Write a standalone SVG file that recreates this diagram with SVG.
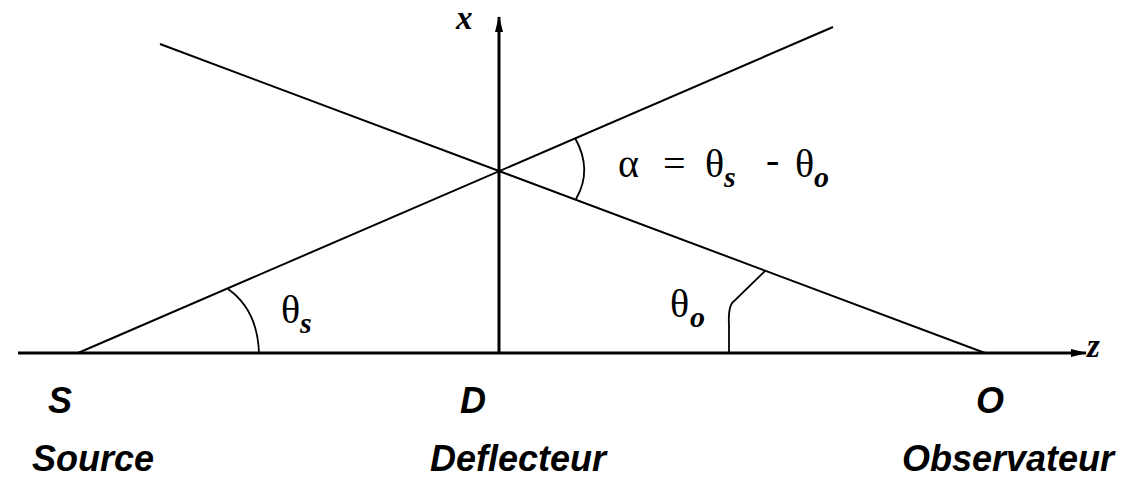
<svg xmlns="http://www.w3.org/2000/svg" width="1124" height="477" viewBox="0 0 1124 477">
<defs>
<marker id="arr" viewBox="0 0 16 8" refX="15" refY="4" markerWidth="16" markerHeight="8" markerUnits="userSpaceOnUse" orient="auto">
<path d="M0,0 L16,4 L0,8 Z" fill="#000"/>
</marker>
<style>
.axis{stroke:#000;stroke-width:3;fill:none}
.ray{stroke:#000;stroke-width:2;fill:none}
.arc{stroke:#000;stroke-width:1.8;fill:none}
.lbl{font-family:"Liberation Sans",Arial,sans-serif;font-style:italic;font-weight:bold;font-size:36px;fill:#000}
.sym{font-family:"Liberation Serif","Times New Roman",serif;font-size:40px;fill:#000}
.sub{font-family:"Liberation Serif","Times New Roman",serif;font-style:italic;font-weight:bold;font-size:30px;fill:#000}
.ax{font-family:"Liberation Serif","Times New Roman",serif;font-style:italic;font-weight:bold;font-size:33px;fill:#000}
</style>
</defs>
<rect width="1124" height="477" fill="#fff"/>
<g id="connectors">
<line class="axis" x1="18" y1="353" x2="1086" y2="353" marker-end="url(#arr)"/>
<line class="axis" x1="499" y1="353" x2="499" y2="17" marker-end="url(#arr)"/>
<line class="ray" x1="78" y1="353" x2="833" y2="27"/>
<line class="ray" x1="160" y1="44" x2="985" y2="353"/>
<path class="arc" d="M228,289 C248,303 258,325 259,353"/>
<path class="arc" d="M765,271 L732,303 Q728,310 729,325 L729,353"/>
<path class="arc" d="M575,138 Q593,170 576,199"/>
</g>
<g id="axis-labels">
<text class="ax" x="456" y="29">x</text>
<text class="ax" x="1087" y="357">z</text>
</g>
<g id="angle-labels">
<text x="618" y="177"><tspan class="sym">α</tspan><tspan class="sym" x="663">=</tspan><tspan class="sym" x="705">θ</tspan><tspan class="sub" x="724" y="187">s</tspan><tspan class="sym" x="766" y="173">-</tspan><tspan class="sym" x="795" y="177">θ</tspan><tspan class="sub" x="814" y="187">o</tspan></text>
<text x="281" y="323"><tspan class="sym">θ</tspan><tspan class="sub" x="300" y="333">s</tspan></text>
<text x="670" y="317"><tspan class="sym">θ</tspan><tspan class="sub" x="690" y="327">o</tspan></text>
</g>
<g id="node-S">
<text class="lbl" x="48" y="413">S</text>
<text class="lbl" x="32" y="471">Source</text>
</g>
<g id="node-D">
<text class="lbl" x="460" y="413">D</text>
<text class="lbl" x="430" y="471">Deflecteur</text>
</g>
<g id="node-O">
<text class="lbl" x="976" y="413">O</text>
<text class="lbl" x="902" y="471">Observateur</text>
</g>
</svg>
